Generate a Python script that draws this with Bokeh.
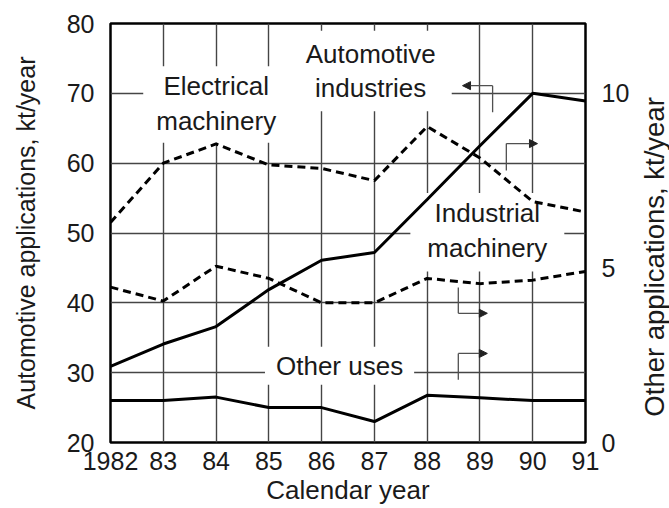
import math
from bokeh.plotting import figure
from bokeh.layouts import row
from bokeh.models import Range1d, LinearAxis, FixedTicker, Arrow, NormalHead
from bokeh.core.properties import value
from bokeh.embed import file_html
from bokeh.resources import INLINE

# ---- data ----
years = [1982, 1983, 1984, 1985, 1986, 1987, 1988, 1989, 1990, 1991]
year_labels = ["1982", "83", "84", "85", "86", "87", "88", "89", "90", "91"]
automotive = [30.9, 34.1, 36.6, 41.9, 46.1, 47.2, 54.8, 62.5, 70.0, 68.9]      # left axis, kt/year
electrical = [6.3, 8.0, 8.55, 7.95, 7.85, 7.5, 9.05, 8.15, 6.9, 6.6]          # right axis, kt/year
industrial = [4.45, 4.05, 5.05, 4.7, 4.0, 4.0, 4.7, 4.55, 4.65, 4.9]          # right axis
other_uses = [1.2, 1.2, 1.3, 1.0, 1.0, 0.6, 1.35, 1.28, 1.2, 1.2]             # right axis
left_ticks = [20, 30, 40, 50, 60, 70, 80]
right_ticks = [0, 5, 10]

FONT = "Liberation Sans"
INK = "#1a1a1a"
GRID = "#454545"

p = figure(width=635, height=508,
           x_range=Range1d(1982, 1991), y_range=Range1d(20, 80),
           output_backend="svg", toolbar_location=None,
           min_border_left=110, min_border_right=50,
           min_border_top=23, min_border_bottom=66,
           background_fill_color="white", border_fill_color="white")
p.extra_y_ranges = {"other": Range1d(0, 12)}

p.outline_line_color = "black"
p.outline_line_width = 2.5

# axes
p.xaxis.ticker = FixedTicker(ticks=years)
p.xaxis.major_label_overrides = {y: s for y, s in zip(years, year_labels)}
p.xaxis.axis_label = "Calendar year"
p.yaxis.ticker = FixedTicker(ticks=left_ticks)
p.yaxis.axis_label = "Automotive applications, kt/year"

raxis = LinearAxis(y_range_name="other", ticker=FixedTicker(ticks=right_ticks))
p.add_layout(raxis, "right")

for ax in [p.xaxis[0], p.yaxis[0], raxis]:
    ax.axis_line_color = None
    ax.major_tick_line_color = None
    ax.minor_tick_line_color = None
    ax.major_label_text_font = FONT
    ax.major_label_text_font_size = "25px"
    ax.major_label_text_color = INK
    ax.axis_label_text_font = FONT
    ax.axis_label_text_font_style = "normal"
    ax.axis_label_text_font_size = "25px"
    ax.axis_label_text_color = INK
    ax.major_label_standoff = 10

p.xaxis.major_label_standoff = 3
p.xaxis.axis_label_standoff = 2
p.xaxis.axis_label_text_font_size = "26px"
p.yaxis.axis_label_standoff = 24

# grid
p.xgrid.ticker = FixedTicker(ticks=years)
p.ygrid.ticker = FixedTicker(ticks=left_ticks)
for g in [p.xgrid[0], p.ygrid[0]]:
    g.grid_line_color = GRID
    g.grid_line_width = 1.4

# label boxes (white background interrupts the grid)
labels = [
    (1984.05, 68.4, "Electrical\nmachinery", (13, 18, 5, 7)),
    (1986.93, 73.2, "Automotive\nindustries", (16, 16, 8, 8)),
    (1989.14, 50.1, "Industrial\nmachinery", (17, 17, 5, 9)),
    (1986.34, 31.0, "Other uses", (11, 11, 4, 4)),
]
for lx, ly, txt, pad in labels:
    p.text(x=[lx], y=[ly], text=[txt], text_font=value(FONT), text_font_size="26px",
           text_color=INK, text_align="center", text_baseline="middle",
           text_line_height=1.15,
           background_fill_color="white", padding=pad)

# data lines
p.line(years, automotive, line_color="black", line_width=3)
p.line(years, electrical, y_range_name="other", line_color="black", line_width=3, line_dash="8 5")
p.line(years, industrial, y_range_name="other", line_color="black", line_width=3, line_dash="8 5")
p.line(years, other_uses, y_range_name="other", line_color="black", line_width=3)

# leader arrows (in left-axis coordinates)
LEAD = "#505050"
leaders = [
    # (bend x, bend y, tip x, vertical end y)
    (1989.24, 71.1, 1988.67, 67.3),
    (1989.50, 62.8, 1990.09, 58.95),
    (1988.59, 38.5, 1989.14, 42.2),
    (1988.59, 32.75, 1989.14, 29.0),
]
p.segment(x0=[l[0] for l in leaders], y0=[l[1] for l in leaders],
          x1=[l[0] for l in leaders], y1=[l[3] for l in leaders],
          line_color=LEAD, line_width=1.3)
for bx, by, tx, _ in leaders:
    p.add_layout(Arrow(end=NormalHead(size=8, fill_color="#222", line_color="#222"),
                       x_start=bx, y_start=by, x_end=tx, y_end=by,
                       line_color=LEAD, line_width=1.3))

# narrow strip holding the right-hand axis title (reads bottom to top)
t = figure(width=34, height=508, x_range=Range1d(0, 34), y_range=Range1d(0, 508),
           output_backend="svg", toolbar_location=None,
           x_axis_type=None, y_axis_type=None, min_border=0,
           background_fill_color="white", border_fill_color="white")
t.outline_line_color = None
t.grid.visible = False
t.text(x=[18.5], y=[225], text=["Other applications, kt/year"], angle=math.pi / 2,
       text_font=value(FONT), text_font_size="27.5px", text_color=INK,
       text_align="center", text_baseline="middle")

layout = row(p, t, spacing=0)
open("out.html", "w").write(file_html(layout, INLINE))
